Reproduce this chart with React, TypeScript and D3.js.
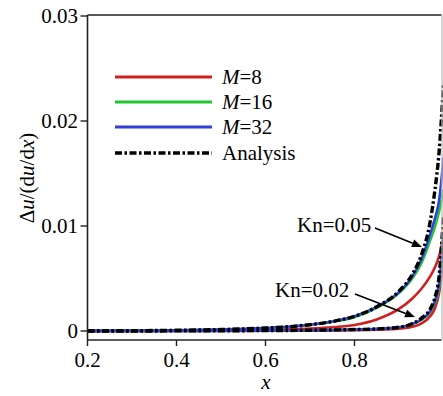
import React from "react";
import * as d3 from "d3";

// Sample positions along x
const xs = [0.2, 0.3, 0.4, 0.5, 0.6, 0.65, 0.7, 0.75, 0.8, 0.85, 0.9, 0.93, 0.95, 0.97, 0.98, 0.99, 1.0];

// Kn = 0.05
const kn05Analysis = [0.00001, 0.00003, 0.00007, 0.00014, 0.00028, 0.0004, 0.0006, 0.0009, 0.0014, 0.0023, 0.0038, 0.0054, 0.0072, 0.0104, 0.0132, 0.017, 0.0235];
const kn05M32 = [0.00001, 0.00003, 0.00007, 0.00014, 0.00028, 0.0004, 0.0006, 0.0009, 0.0014, 0.0023, 0.0037, 0.0052, 0.0068, 0.0092, 0.0106, 0.0124, 0.0165];
const kn05M16 = [0.00001, 0.00003, 0.00007, 0.00014, 0.00027, 0.00039, 0.00058, 0.00087, 0.0013, 0.0022, 0.0036, 0.005, 0.0064, 0.0086, 0.0098, 0.0113, 0.0135];
const kn05M8 = [0, 0.00001, 0.00003, 0.00006, 0.00012, 0.00017, 0.00024, 0.00036, 0.00058, 0.0011, 0.0021, 0.0031, 0.004, 0.0052, 0.006, 0.0071, 0.009];

// Kn = 0.02
const kn02Analysis = [0, 0, 0.00001, 0.00002, 0.00004, 0.00005, 0.00007, 0.0001, 0.00014, 0.0002, 0.00036, 0.0007, 0.0012, 0.0021, 0.0031, 0.0052, 0.011];
const kn02M32 = [0, 0, 0.00001, 0.00002, 0.00004, 0.00005, 0.00007, 0.0001, 0.00014, 0.0002, 0.00035, 0.00068, 0.0011, 0.0019, 0.0028, 0.0045, 0.009];
const kn02M16 = [0, 0, 0.00001, 0.00002, 0.00004, 0.00005, 0.00007, 0.0001, 0.00014, 0.0002, 0.00034, 0.00066, 0.00105, 0.0018, 0.0026, 0.0041, 0.008];
const kn02M8 = [0, 0, 0, 0.00001, 0.00002, 0.00002, 0.00003, 0.00005, 0.00008, 0.00013, 0.00023, 0.0004, 0.0007, 0.0014, 0.0021, 0.0036, 0.007];

const xTicks = [0.2, 0.4, 0.6, 0.8];
const yTicks = [0, 0.01, 0.02, 0.03];
const yTickLabels = ["0", "0.01", "0.02", "0.03"];

const RED = "#d02020";
const GREEN = "#20c830";
const BLUE = "#3040d8";
const BLACK = "#000";
const DASHDOT = "7,2.5,2.5,2.5";

const W = 443;
const H = 396;
const plotLeft = 87.5;
const plotRight = 441.5;
const plotTop = 15;
const plotBottom = 340;

const SERIF = "Times New Roman";
const serifStyle = { fontFamily: SERIF, fontSize: "21px" };

// Arrow shaft with a filled triangular head at (x2, y2)
function Arrow({ x1, y1, x2, y2 }: { x1: number; y1: number; x2: number; y2: number }) {
  const a = Math.atan2(y2 - y1, x2 - x1);
  const len = 10;
  const half = 4;
  const bx = x2 - len * Math.cos(a);
  const by = y2 - len * Math.sin(a);
  const px = -Math.sin(a) * half;
  const py = Math.cos(a) * half;
  return (
    <g>
      <line x1={x1} y1={y1} x2={bx} y2={by} stroke="#000" strokeWidth={1.6} />
      <path d={`M${x2},${y2} L${bx + px},${by + py} L${bx - px},${by - py} Z`} fill="#000" />
    </g>
  );
}

export default function App() {
  const x = d3.scaleLinear().domain([0.2, 1.0]).range([plotLeft, 443.5]);
  const y = d3.scaleLinear().domain([0, 0.03]).range([331, 16]);

  const line = d3
    .line<number>()
    .x((_, i) => x(xs[i]))
    .y((v) => y(v))
    .curve(d3.curveMonotoneX);

  const series = [
    { v: kn05M8, c: RED, w: 2.6, dash: undefined },
    { v: kn02M8, c: RED, w: 2.6, dash: undefined },
    { v: kn05M16, c: GREEN, w: 2.4, dash: undefined },
    { v: kn02M16, c: GREEN, w: 2.4, dash: undefined },
    { v: kn05M32, c: BLUE, w: 2.6, dash: undefined },
    { v: kn02M32, c: BLUE, w: 2.6, dash: undefined },
    { v: kn05Analysis, c: BLACK, w: 3.4, dash: DASHDOT },
    { v: kn02Analysis, c: BLACK, w: 3.4, dash: DASHDOT },
  ];

  const legend = [
    { label: "M", rest: "=8", c: RED, dash: undefined, w: 3 },
    { label: "M", rest: "=16", c: GREEN, dash: undefined, w: 3 },
    { label: "M", rest: "=32", c: BLUE, dash: undefined, w: 3 },
    { label: "", rest: "Analysis", c: BLACK, dash: DASHDOT, w: 3.6 },
  ];
  const legendY = [77, 102, 127, 153];

  return (
    <div style={{ fontFamily: SERIF }}>
      <svg width={W} height={H} style={{ position: "absolute", left: 0, top: 0 }}>
        {/* curves */}
        {series.map((s, i) => (
          <path
            key={i}
            d={line(s.v) || ""}
            fill="none"
            stroke={s.c}
            strokeWidth={s.w}
            strokeDasharray={s.dash}
          />
        ))}

        {/* frame */}
        <line x1={plotLeft} x2={plotRight} y1={plotTop} y2={plotTop} stroke="#222" strokeWidth={1.6} />
        <line x1={plotLeft} x2={plotRight} y1={plotBottom} y2={plotBottom} stroke="#222" strokeWidth={1.6} />
        <line x1={plotLeft} x2={plotLeft} y1={plotTop} y2={plotBottom} stroke="#222" strokeWidth={1.6} />
        <line x1={plotRight + 0.5} x2={plotRight + 0.5} y1={plotTop} y2={plotBottom} stroke="#bbb" strokeWidth={1.2} />

        {/* y axis */}
        {yTicks.map((t, i) => (
          <g key={t}>
            <line x1={plotLeft - 7} x2={plotLeft} y1={y(t)} y2={y(t)} stroke="#222" strokeWidth={1.4} />
            <text x={78} y={y(t) + 7} textAnchor="end" style={serifStyle}>
              {yTickLabels[i]}
            </text>
          </g>
        ))}

        {/* x axis */}
        {xTicks.map((t) => (
          <g key={t}>
            <line x1={x(t)} x2={x(t)} y1={plotBottom} y2={plotBottom + 6} stroke="#222" strokeWidth={1.4} />
            <text x={x(t)} y={367} textAnchor="middle" style={serifStyle}>
              {t.toFixed(1)}
            </text>
          </g>
        ))}

        <text x={266} y={389} textAnchor="middle" fontStyle="italic" style={serifStyle}>
          x
        </text>

        <text transform="translate(34,178) rotate(-90)" textAnchor="middle" style={serifStyle}>
          Δ<tspan fontStyle="italic">u</tspan>/(d<tspan fontStyle="italic">u</tspan>/d<tspan fontStyle="italic">x</tspan>)
        </text>

        {/* legend */}
        {legend.map((l, i) => (
          <g key={i}>
            <line
              x1={115}
              x2={212}
              y1={legendY[i]}
              y2={legendY[i]}
              stroke={l.c}
              strokeWidth={l.w}
              strokeDasharray={l.dash}
            />
            <text x={222} y={legendY[i] + 7} style={serifStyle}>
              {l.label ? <tspan fontStyle="italic">{l.label}</tspan> : null}
              {l.rest}
            </text>
          </g>
        ))}

        {/* annotations */}
        <text x={297} y={232} style={serifStyle}>
          Kn=0.05
        </text>
        <Arrow x1={375} y1={228} x2={422} y2={247} />
        <text x={275} y={297} style={serifStyle}>
          Kn=0.02
        </text>
        <Arrow x1={355} y1={294} x2={415} y2={317} />
      </svg>
    </div>
  );
}
